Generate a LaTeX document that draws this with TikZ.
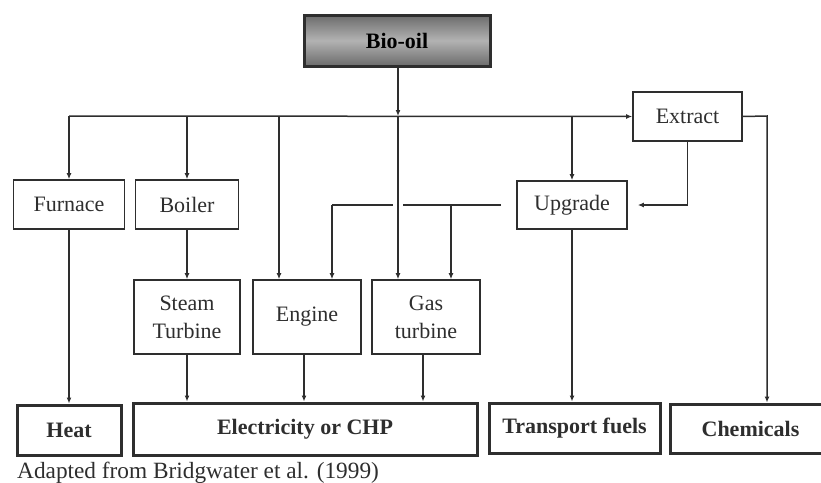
\documentclass[tikz,border=0pt]{standalone}
\usepackage{fontspec}
\setmainfont{Liberation Serif}
\usetikzlibrary{arrows.meta,calc}
\definecolor{ink}{gray}{0.18}
\definecolor{bioedge}{gray}{0.42}
\definecolor{biomid}{gray}{0.70}
\begin{document}
\begin{tikzpicture}[x=1pt,y=-1pt,
  box/.style={draw=ink, line width=1.6pt, fill=white, inner sep=0pt, align=center,
    font=\fontsize{22}{28}\selectfont, text=ink},
  endbox/.style={draw=ink, line width=3pt, fill=white, inner sep=0pt, align=center,
    font=\fontsize{22}{26}\selectfont\bfseries, text=ink},
  arr/.style={draw=ink, line width=1.5pt, -{Latex[length=6pt,width=5pt]}},
  ln/.style={draw=ink, line width=1.5pt}]
\useasboundingbox (0,0) rectangle (821,482);

% nodes
\node[draw=ink, line width=3pt, top color=bioedge, bottom color=bioedge, middle color=biomid,
  minimum width=186pt, minimum height=51pt, inner sep=0pt,
  font=\fontsize{22}{26}\selectfont\bfseries, text=black] (bio) at (397,40.5) {Bio-oil};
\node[box, minimum width=109pt, minimum height=49pt] (extract) at (687.5,116.5) {Extract};
\node[box, minimum width=111pt, minimum height=49pt] (furnace) at (69,204.5) {Furnace};
\node[box, minimum width=103pt, minimum height=49pt] (boiler) at (187,204.5) {Boiler};
\node[box, minimum width=110pt, minimum height=48pt] (upgrade) at (572,205) {Upgrade};
\node[box, minimum width=106pt, minimum height=74pt] (steam) at (187,317) {Steam\\Turbine};
\node[box, minimum width=108pt, minimum height=74pt] (engine) at (307,317) {Engine};
\node[box, minimum width=108pt, minimum height=74pt] (gasturb) at (426,317) {Gas\\turbine};
\node[endbox, minimum width=104pt, minimum height=50pt] (heat) at (69,430) {Heat};
\node[endbox, minimum width=344pt, minimum height=52pt] (elec) at (305,429) {Electricity or CHP};
\node[endbox, minimum width=171pt, minimum height=50pt] (transport) at (574.5,428) {Transport fuels};
\node[endbox, minimum width=161pt, minimum height=49pt] (chem) at (750.5,428.5) {Chemicals};
\node[anchor=base west, inner sep=0pt, font=\fontsize{23.3}{28}\selectfont, text=ink]
  (cap) at (17,478) {Adapted from Bridgwater et al. (1999)};

% junction coordinates
\coordinate (j0) at (398,116);
\coordinate (jl) at (69,116);
\coordinate (je) at (279,116);
\coordinate (ub) at (332,205);
\coordinate (ug) at (451,205);
\coordinate (xc) at (767,116);

% connectors
\draw[arr] (j0 |- bio.south) -- (j0);
\draw[arr] (jl) -- (extract.west);
\draw[arr] (jl) -- (furnace.north);
\draw[arr] (jl -| boiler.north) -- (boiler.north);
\draw[arr] (je) -- (je |- engine.north);
\draw[arr] (j0 -| upgrade.north) -- (upgrade.north);
\draw[ln, shorten <=15pt] (upgrade.west) -- (ub);
\draw[white, line width=3pt] (393,205) -- (403,205);
\draw[arr] (ub) -- (ub |- engine.north);
\draw[arr] (ug) -- (ug |- gasturb.north);
\draw[arr] (j0) -- (j0 |- gasturb.north);
\draw[arr, shorten >=10pt] (extract.south) |- (upgrade.east);
\draw[arr] (extract.east) -- (xc) -- (xc |- chem.north);
\draw[arr] (furnace.south) -- (heat.north);
\draw[arr] (boiler.south) -- (steam.north);
\draw[arr] (steam.south) -- (steam.south |- elec.north);
\draw[arr] ([xshift=-3pt]engine.south) -- ([xshift=-3pt]engine.south |- elec.north);
\draw[arr] ([xshift=-3pt]gasturb.south) -- ([xshift=-3pt]gasturb.south |- elec.north);
\draw[arr] (upgrade.south) -- (upgrade.south |- transport.north);
\end{tikzpicture}
\end{document}
